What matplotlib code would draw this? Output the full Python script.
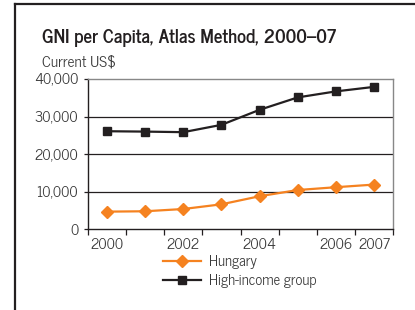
import matplotlib
matplotlib.use("Agg")
import matplotlib.pyplot as plt
from matplotlib.lines import Line2D

years = [2000, 2001, 2002, 2003, 2004, 2005, 2006, 2007]
hungary = [4700, 4800, 5400, 6650, 8800, 10450, 11200, 11900]
high_income = [26100, 26000, 25850, 27800, 31800, 35100, 36700, 37900]
year_labels = ["2000", "2002", "2004", "2006", "2007"]
label_years = [2000, 2002, 2004, 2006, 2007]
y_ticks = [0, 10000, 20000, 30000, 40000]

plt.rcParams['font.family'] = ['News Cycle', 'Liberation Sans', 'DejaVu Sans']

txt = "#231f20"
grey_txt = "#3a3a3a"
orange = "#f58220"
fig = plt.figure(figsize=(4.15, 3.10), dpi=100)

# partial frame (top and left lines)
fig.add_artist(Line2D([15/415, 1.0], [1-4/310, 1-4/310], color=txt, lw=1.6, transform=fig.transFigure))
fig.add_artist(Line2D([15/415, 15/415], [0, 1-4/310], color=txt, lw=1.6, transform=fig.transFigure))

ax = fig.add_axes([88/415, 1-229.3/310, (393-88)/415, (229.3-79)/310])
x = list(range(len(years)))
ax.plot(x, hungary, color=orange, lw=1.6, marker='D', ms=6, mec=orange, mfc=orange, zorder=3)
ax.plot(x, high_income, color=txt, lw=1.6, marker='s', ms=6, mec=txt, mfc=txt, zorder=3)

ax.set_xlim(-0.5, len(years) - 0.5)
ax.set_ylim(0, 40000)
ax.set_yticks(y_ticks)
ax.set_yticklabels([f"{v:,}" for v in y_ticks], fontsize=10.5, color=grey_txt)
for v in y_ticks[1:-1]:
    ax.axhline(v, color=txt, lw=0.9, zorder=1)

ax.set_xticks([i - 0.5 for i in range(len(years) + 1)])
ax.set_xticklabels([])
ax.set_xticks([years.index(y) for y in label_years], minor=True)
ax.set_xticklabels(year_labels, minor=True, fontsize=10.5, color=grey_txt)
ax.tick_params(axis='x', which='major', length=4, width=0.9, color=txt, direction='out')
ax.tick_params(axis='x', which='minor', length=0, pad=6)
ax.tick_params(axis='y', length=3, width=0.9, color=txt, pad=4)

for s in ['top', 'right']:
    ax.spines[s].set_color("#888888")
    ax.spines[s].set_linewidth(1.0)
for s in ['left', 'bottom']:
    ax.spines[s].set_color(txt)
    ax.spines[s].set_linewidth(1.0)

fig.text(42/415, 1-43/310, "GNI per Capita, Atlas Method, 2000–07", fontsize=13.5, fontweight='bold', color=txt, ha='left', va='baseline')
fig.text(42/415, 1-66/310, "Current US$", fontsize=11, color=grey_txt, ha='left', va='baseline')

handles = [Line2D([], [], color=orange, lw=1.6, marker='D', ms=6, mec=orange, mfc=orange),
           Line2D([], [], color=txt, lw=1.6, marker='s', ms=6, mec=txt, mfc=txt)]
fig.legend(handles, ["Hungary", "High-income group"], loc='upper left',
           bbox_to_anchor=(163/415, 1-255/310), frameon=False, fontsize=10.5,
           handlelength=2.6, handletextpad=0.55, labelspacing=0.32,
           borderpad=0, borderaxespad=0, labelcolor=grey_txt)

fig.savefig("out.png", dpi=100)
